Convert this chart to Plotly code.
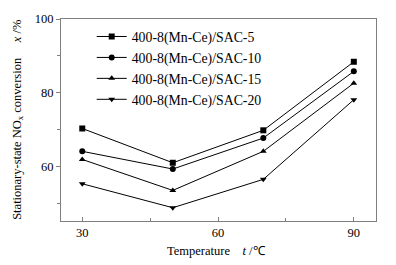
import plotly.graph_objects as go

temperature = [30, 50, 70, 90]
series_names = ["400-8(Mn-Ce)/SAC-5", "400-8(Mn-Ce)/SAC-10",
                "400-8(Mn-Ce)/SAC-15", "400-8(Mn-Ce)/SAC-20"]
sac5 = [70.3, 61.0, 69.8, 88.4]
sac10 = [64.1, 59.3, 67.7, 85.8]
sac15 = [61.9, 53.5, 64.1, 82.6]
sac20 = [55.3, 48.8, 56.5, 78.1]
x_ticks = [30, 60, 90]
y_ticks = [60, 80, 100]

symbols = ["square", "circle", "triangle-up", "triangle-down"]
font_family = "Liberation Serif, Times New Roman, serif"

fig = go.Figure()
for name, vals, sym in zip(series_names, [sac5, sac10, sac15, sac20], symbols):
    fig.add_trace(go.Scatter(
        x=temperature, y=vals, name=name, mode="lines+markers",
        line=dict(color="black", width=1),
        marker=dict(symbol=sym, size=6, color="black"),
    ))

axis_color = "#7f7f7f"
fig.update_layout(
    width=396, height=265,
    margin=dict(l=61, r=20, t=13, b=44),
    paper_bgcolor="white", plot_bgcolor="white",
    font=dict(family=font_family, size=12, color="black"),
    showlegend=True,
    legend=dict(x=0.0975, y=0.99, xanchor="left", yanchor="top",
                bgcolor="rgba(0,0,0,0)", font=dict(size=13.8, family=font_family),
                itemwidth=30, tracegroupgap=0),
    xaxis=dict(range=[25.3, 94.9], tickvals=x_ticks, ticks="inside", ticklen=4,
               tickcolor=axis_color, showline=True, linecolor=axis_color,
               linewidth=1, mirror=True, showgrid=False, zeroline=False,
               minor=dict(tickvals=[45, 75], ticks="inside", ticklen=3, tickcolor=axis_color),
               tickfont=dict(size=12.5)),
    yaxis=dict(range=[45.2, 100], tickvals=y_ticks, ticks="outside", ticklen=4,
               tickcolor=axis_color, showline=True, linecolor=axis_color,
               linewidth=1, mirror=True, showgrid=False, zeroline=False,
               minor=dict(tickvals=[50, 70, 90], ticks="outside", ticklen=3, tickcolor=axis_color),
               tickfont=dict(size=12.5)),
    annotations=[
        dict(text="Temperature &nbsp;&nbsp;&nbsp;<i>t</i> /℃", xref="paper", yref="paper",
             x=0.495, y=-0.15, xanchor="center", yanchor="middle", showarrow=False,
             font=dict(size=12.5, family=font_family)),
        dict(text="Stationary-state NO<sub>x</sub> conversion &nbsp;&nbsp;&nbsp;&nbsp;<i>x</i> /%",
             xref="paper", yref="paper", x=-0.137, y=0.5, xanchor="center", yanchor="middle",
             textangle=-90, showarrow=False, font=dict(size=12.5, family=font_family)),
    ],
)

fig.write_html("out.html", config={"displayModeBar": False},
               post_script="document.body.style.margin='0';")
